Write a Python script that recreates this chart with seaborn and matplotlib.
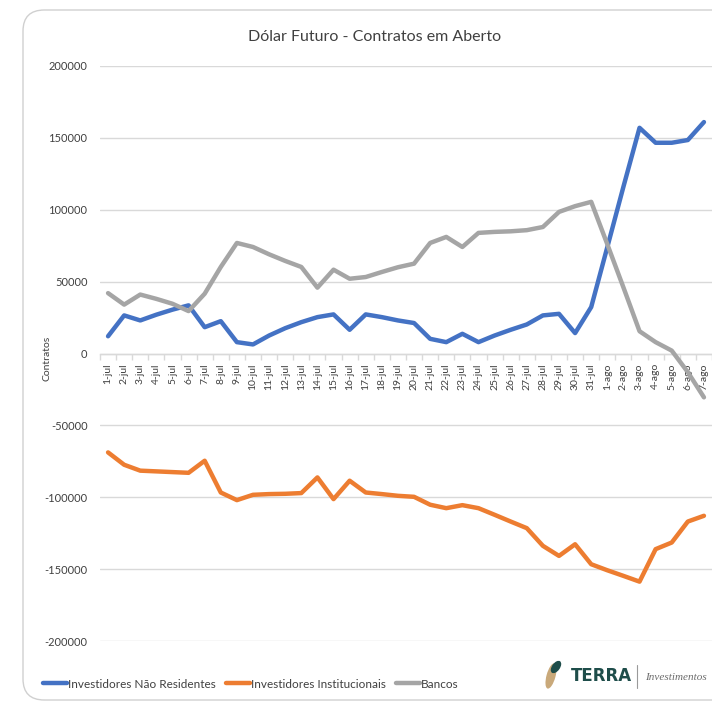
import matplotlib
matplotlib.use("Agg")
import matplotlib.pyplot as plt
import pandas as pd
import seaborn as sns
from matplotlib.patches import FancyBboxPatch, Ellipse
from matplotlib.lines import Line2D
from matplotlib.ticker import FuncFormatter, FixedLocator

# ---------------- data ----------------
dias = ["1-jul", "2-jul", "3-jul", "4-jul", "5-jul", "6-jul", "7-jul", "8-jul", "9-jul", "10-jul",
        "11-jul", "12-jul", "13-jul", "14-jul", "15-jul", "16-jul", "17-jul", "18-jul", "19-jul", "20-jul",
        "21-jul", "22-jul", "23-jul", "24-jul", "25-jul", "26-jul", "27-jul", "28-jul", "29-jul", "30-jul",
        "31-jul", "1-ago", "2-ago", "3-ago", "4-ago", "5-ago", "6-ago", "7-ago"]

nao_residentes = [12000, 26500, 23000, 27000, 30500, 33500, 18300, 22500, 7900, 6300,
                  12500, 17600, 21800, 25300, 27200, 16500, 27200, 25300, 23000, 21200,
                  10200, 7900, 13700, 7900, 12500, 16500, 20200, 26500, 27600, 14200,
                  32300, 74000, 116000, 157000, 146600, 146600, 148500, 161000]

institucionais = [-68800, -77400, -81500, -82000, -82500, -83000, -74600, -96700, -102000, -98300,
                  -97800, -97600, -97100, -86200, -101300, -88500, -96700, -97800, -99000, -99700,
                  -105200, -107600, -105500, -107600, -112200, -116900, -121500, -133800, -140800, -132700,
                  -146600, -150800, -154700, -158700, -136100, -131500, -116900, -112900]

bancos = [42000, 34000, 41000, 38000, 34600, 29500, 41600, 60200, 76900, 74100,
          69000, 64400, 60200, 45800, 58300, 52000, 53200, 56700, 60000, 62500,
          76900, 81100, 74100, 83900, 84600, 85000, 85800, 88000, 98500, 102500,
          105500, 76000, 46000, 15500, 7900, 2000, -13000, -30500]

series_names = ["Investidores Não Residentes", "Investidores Institucionais", "Bancos"]
series_colors = ["#4472C4", "#ED7D31", "#A5A5A5"]
y_ticks = [-200000, -150000, -100000, -50000, 0, 50000, 100000, 150000, 200000]

# ---------------- frame ----------------
rows = []
for name, vals in zip(series_names, [nao_residentes, institucionais, bancos]):
    for i, (d, v) in enumerate(zip(dias, vals)):
        rows.append({"pos": i, "dia": d, "serie": name, "valor": v})
df = pd.DataFrame(rows)

sns.set_theme(style="white")
plt.rcParams["font.family"] = ["Lato", "DejaVu Sans"]

fig = plt.figure(figsize=(7.12, 7.04), dpi=100)
fig.patch.set_facecolor("white")

# card border
card = FancyBboxPatch((23 / 712, 4 / 704), 720 / 712, 690 / 704,
                      boxstyle="round,pad=0,rounding_size=0.03",
                      transform=fig.transFigure, facecolor="none",
                      edgecolor="#D0D0D0", linewidth=1.0, zorder=-1)
fig.patches.append(card)

ax = fig.add_axes([100 / 712, 1 - 641 / 704, 612 / 712, (641 - 66) / 704])
ax.set_facecolor("none")

sns.lineplot(data=df, x="pos", y="valor", hue="serie", hue_order=series_names,
             palette=series_colors, linewidth=3.2, legend=False, ax=ax,
             sort=False, estimator=None)
for ln in ax.get_lines():
    ln.set_solid_joinstyle("round")
    ln.set_solid_capstyle("round")

ax.set_ylim(-200000, 200000)
ax.set_xlim(-0.37, 37.35)
ax.yaxis.set_major_locator(FixedLocator(y_ticks))
ax.yaxis.set_major_formatter(FuncFormatter(lambda v, p: f"{int(v)}"))
ax.grid(axis="y", color="#D9D9D9", linewidth=1.0)
ax.grid(axis="x", visible=False)
ax.set_axisbelow(True)
for s in ["top", "right", "left"]:
    ax.spines[s].set_visible(False)
ax.spines["bottom"].set_position(("data", 0))
ax.spines["bottom"].set_color("#D9D9D9")
ax.spines["bottom"].set_linewidth(1.0)
ax.spines["bottom"].set_zorder(0.5)

ax.set_xticks(range(len(dias)))
ax.set_xticklabels(dias, rotation=90, fontsize=7.5, color="#404040")
ax.set_xticks([i - 0.5 for i in range(len(dias) + 1)], minor=True)
ax.tick_params(axis="x", which="major", length=0, pad=7)
ax.tick_params(axis="x", which="minor", length=4, color="#D9D9D9", width=1, direction="out", bottom=True)
ax.tick_params(axis="y", length=0, pad=9, labelsize=8, labelcolor="#404040")
for lab in ax.get_xticklabels():
    lab.set_va("top")

ax.set_xlabel("")
ax.set_ylabel("")
fig.text(47 / 712, 1 - 358 / 704, "Contratos", rotation=90, ha="center", va="center",
         fontsize=7.5, color="#404040")

fig.text(375 / 712, 1 - 37 / 704, "Dólar Futuro - Contratos em Aberto", ha="center", va="center",
         fontsize=11.5, color="#404040")

# legend
handles = [Line2D([0], [0], color=c, lw=3.2) for c in series_colors]
fig.legend(handles, series_names, loc="center left", bbox_to_anchor=(43 / 712, 1 - 684 / 704),
           ncol=3, frameon=False, fontsize=8.5, handlelength=2.0, handletextpad=0.1,
           columnspacing=0.9, labelcolor="#404040", borderaxespad=0, borderpad=0)

# logo
fig.patches.append(Ellipse((551 / 712, 1 - 676 / 704), 9 / 712, 26 / 704, angle=-15,
                           transform=fig.transFigure, facecolor="#C9A97A", edgecolor="none"))
fig.patches.append(Ellipse((556 / 712, 1 - 667 / 704), 8 / 712, 14 / 704, angle=-35,
                           transform=fig.transFigure, facecolor="#1E4D4A", edgecolor="none"))
fig.text(571 / 712, 1 - 676 / 704, "TERRA", fontsize=12, fontweight="bold", color="#1E4D4A",
         ha="left", va="center", family=["DejaVu Sans"])
fig.lines.append(Line2D([637 / 712, 637 / 712], [1 - 665 / 704, 1 - 688 / 704],
                        transform=fig.transFigure, color="#9A9A9A", lw=0.8))
fig.text(645 / 712, 1 - 677 / 704, "Investimentos", fontsize=8, style="italic", color="#6B6B6B",
         ha="left", va="center", family=["Liberation Serif", "DejaVu Serif"])

fig.savefig("out.png", dpi=100, facecolor="white")
